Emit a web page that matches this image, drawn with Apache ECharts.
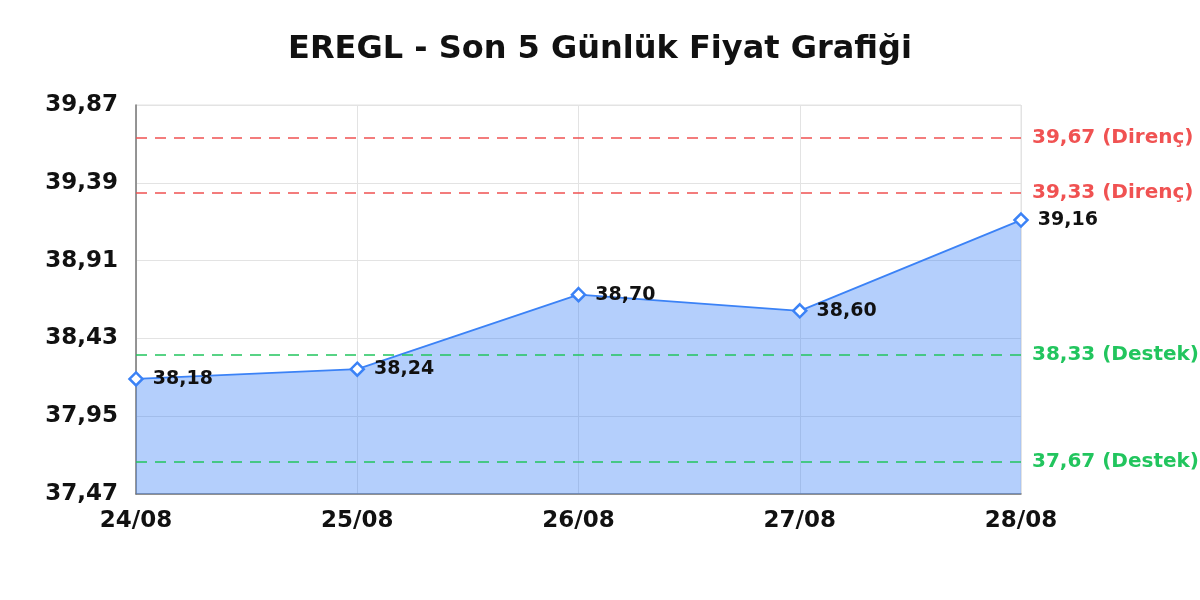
<!DOCTYPE html>
<html><head><meta charset="utf-8">
<script src="https://cdn.jsdelivr.net/npm/echarts@6/dist/echarts.min.js"></script>
<style>html,body{margin:0;padding:0;background:#fff}#c{width:1200px;height:600px}</style>
</head><body><div id="c"></div>
<script>
const titleText = 'EREGL - Son 5 Günlük Fiyat Grafiği';
const categories = ['24/08', '25/08', '26/08', '27/08', '28/08'];
const prices = [38.18, 38.24, 38.70, 38.60, 39.16];
const yTicks = [37.47, 37.95, 38.43, 38.91, 39.39, 39.87];
const resistance = [39.67, 39.33];
const support = [38.33, 37.67];

const fmt = v => v.toFixed(2).replace('.', ',');
const FONT = 'DejaVu Sans';

const markData = [
  ...resistance.map(v => ({ yAxis: v, name: 'Direnç', lineStyle: { color: '#f05252' }, label: { color: '#f05252' } })),
  ...support.map(v => ({ yAxis: v, name: 'Destek', lineStyle: { color: '#22c55e' }, label: { color: '#22c55e' } }))
];

const chart = echarts.init(document.getElementById('c'));
chart.setOption({
  backgroundColor: '#fff',
  animation: false,
  title: {
    text: titleText, left: 'center', top: 29,
    textStyle: { fontFamily: FONT, fontWeight: 'bold', fontSize: 32, color: '#111' }
  },
  grid: { left: 136, right: 179, top: 105, bottom: 106, show: true, borderColor: '#e3e3e3', borderWidth: 1 },
  xAxis: {
    type: 'category', data: categories, boundaryGap: false,
    axisLine: { lineStyle: { color: '#777', width: 1.5 } },
    axisTick: { show: false },
    splitLine: { show: true, lineStyle: { color: '#e3e3e3' } },
    axisLabel: { fontFamily: FONT, fontWeight: 'bold', fontSize: 23, color: '#111', margin: 16 }
  },
  yAxis: {
    type: 'value', min: yTicks[0], max: yTicks[yTicks.length - 1],
    axisLine: { show: true, lineStyle: { color: '#777', width: 1.5 } },
    axisTick: { show: false, customValues: yTicks },
    splitLine: { show: true, lineStyle: { color: '#e3e3e3' } },
    axisLabel: { customValues: yTicks, formatter: v => fmt(v), fontFamily: FONT, fontWeight: 'bold', fontSize: 23, color: '#111', margin: 18 }
  },
  series: [{
    type: 'line', data: prices, symbol: 'diamond', symbolSize: 13,
    lineStyle: { color: '#3b82f6', width: 1.8 },
    itemStyle: { color: '#ffffff', borderColor: '#3b82f6', borderWidth: 2.5 },
    areaStyle: { color: '#3b82f6', opacity: 0.38 },
    label: { show: true, position: 'right', distance: 9, formatter: p => fmt(p.value), fontFamily: FONT, fontWeight: 'bold', fontSize: 19, color: '#111' },
    z: 3,
    markLine: {
      silent: true, symbol: 'none',
      lineStyle: { type: [11, 8], width: 1.5 },
      label: { position: 'end', distance: 11, fontFamily: FONT, fontWeight: 'bold', fontSize: 20,
        formatter: p => fmt(p.value) + ' (' + p.name + ')' },
      data: markData
    }
  }]
});
</script></body></html>
